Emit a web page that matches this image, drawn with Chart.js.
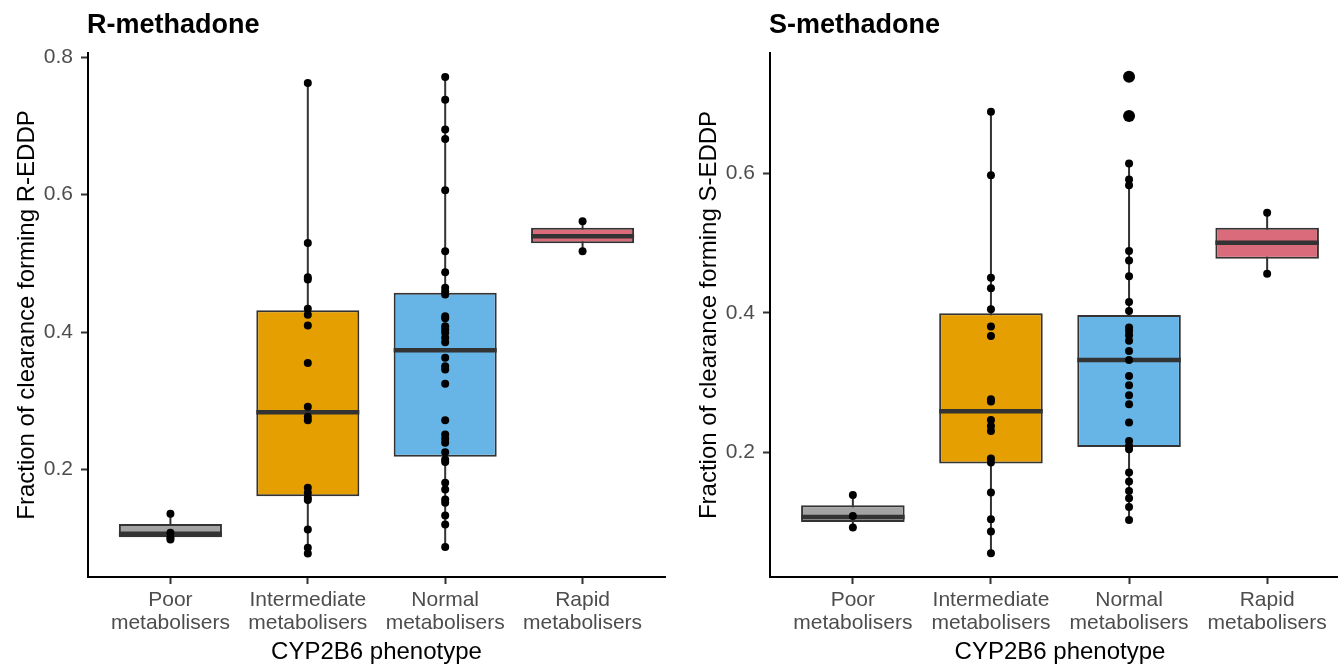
<!DOCTYPE html>
<html>
<head>
<meta charset="utf-8">
<script src="https://cdn.jsdelivr.net/npm/chart.js@4.4.0/dist/chart.umd.min.js"></script>
<style>
html, body { margin:0; padding:0; background:#fff; overflow:hidden; width:1338px; height:665px; }
canvas { position:absolute; top:0; }
.ttl { position:absolute; top:9px; font:bold 27px "Liberation Sans", Arial, sans-serif; color:#000; white-space:nowrap; }
</style>
</head>
<body>
<canvas id="rCanvas" width="680" height="665" style="left:0"></canvas>
<canvas id="sCanvas" width="683" height="665" style="left:682px"></canvas>
<div class="ttl" style="left:87px">R-methadone</div>
<div class="ttl" style="left:769px">S-methadone</div>
<script>
// categories + tick labels
var catLabels = [["Poor", "metabolisers"], ["Intermediate", "metabolisers"], ["Normal", "metabolisers"], ["Rapid", "metabolisers"]];
var boxColors = ["#A3A3A3", "#E69F00", "#66B5E6", "#D96B7A"];

// R-methadone (fraction forming R-EDDP)
var rPoor = [0.1356, 0.108, 0.101, 0.098];
var rInter = [0.7625, 0.5297, 0.4797, 0.4764, 0.4337, 0.425, 0.4095, 0.355, 0.2912, 0.2767, 0.2717, 0.1734, 0.166, 0.1588, 0.1555, 0.1127, 0.0861, 0.0778];
var rNormal = [0.771, 0.738, 0.6945, 0.681, 0.6063, 0.5176, 0.487, 0.4643, 0.4594, 0.4545, 0.423, 0.42, 0.4085, 0.4036, 0.399, 0.3915, 0.385, 0.3624, 0.3503, 0.3455, 0.3246, 0.2717, 0.251, 0.2447, 0.2388, 0.225, 0.2145, 0.2107, 0.1806, 0.1709, 0.1564, 0.1515, 0.133, 0.12, 0.087];
var rRapid = [0.5612, 0.5176];
var rQ1 = [0.1015, 0.161, 0.2185, 0.529];
var rMed = [0.1065, 0.2833, 0.3735, 0.5394];
var rQ3 = [0.1205, 0.4317, 0.457, 0.5516];
var rLo = [0.098, 0.0778, 0.087, 0.5176];
var rHi = [0.1356, 0.7625, 0.771, 0.5612];
var rTicks = [0.2, 0.4, 0.6, 0.8];

// S-methadone (fraction forming S-EDDP)
var sPoor = [0.1393, 0.1092, 0.0926];
var sInter = [0.6882, 0.5974, 0.4505, 0.4352, 0.4052, 0.3804, 0.367, 0.2763, 0.273, 0.2467, 0.238, 0.231, 0.1914, 0.1857, 0.1427, 0.1045, 0.0869, 0.0558];
var sNormal = [0.7383, 0.682, 0.6142, 0.5913, 0.5831, 0.4886, 0.4753, 0.4524, 0.4156, 0.4027, 0.379, 0.374, 0.368, 0.36, 0.3455, 0.3326, 0.3097, 0.2963, 0.282, 0.2691, 0.2429, 0.2166, 0.2094, 0.2047, 0.1714, 0.1585, 0.145, 0.1346, 0.1221, 0.1035];
var sRapid = [0.5436, 0.4563];
var sOutliers = [[], [], [0.7383, 0.682], []];
var sQ1 = [0.1006, 0.1843, 0.208, 0.4777];
var sMed = [0.1078, 0.2591, 0.3326, 0.5006];
var sQ3 = [0.1246, 0.3994, 0.397, 0.5221];
var sLo = [0.0926, 0.0558, 0.1035, 0.4563];
var sHi = [0.1393, 0.6882, 0.6142, 0.5436];
var sTicks = [0.2, 0.4, 0.6];

Chart.defaults.font.family = '"Liberation Sans", Arial, sans-serif';

function axisLook() {
    return {
        grid: { drawOnChartArea: false, drawTicks: true, tickLength: 7, tickColor: "#333", tickWidth: 2, offset: false },
        border: { display: true, color: "#000", width: 2 }
    };
}

function drawPanel(id, pts, outl, q1, med, q3, lo, hi, ticks, yMin, yMax, yTitle) {
    var boxes = q1.map(function(v, i){ return { x: i + 1, y: [v, q3[i]] }; });
    var medians = [], whiskers = [], dots = [], big = [];
    med.forEach(function(m, i){
        medians.push({ x: i + 0.625, y: m }, { x: i + 1.375, y: m }, { x: i + 1, y: null });
        whiskers.push({ x: i + 1, y: lo[i] }, { x: i + 1, y: hi[i] }, { x: i + 1, y: null });
    });
    pts.forEach(function(arr, i){ arr.forEach(function(v){ dots.push({ x: i + 1, y: v }); }); });
    outl.forEach(function(arr, i){ arr.forEach(function(v){ big.push({ x: i + 1, y: v }); }); });

    var xl = axisLook(), yl = axisLook();
    return new Chart(document.getElementById(id), {
        type: "bar",
        data: {
            datasets: [
            { type: "line", data: whiskers, borderColor: "#333", borderWidth: 2, pointRadius: 0, spanGaps: false, fill: false, order: 4 },
            { type: "bar", data: boxes, backgroundColor: boxColors, borderColor: "#333", borderWidth: 2, borderSkipped: false, barPercentage: 0.75, categoryPercentage: 1, order: 3 },
            { type: "line", data: medians, borderColor: "#333", borderWidth: 4.5, borderCapStyle: "butt", pointRadius: 0, spanGaps: false, fill: false, order: 2 },
            { type: "scatter", data: big, pointRadius: 6, backgroundColor: "#000", borderWidth: 0, order: 1 },
            { type: "scatter", data: dots, pointRadius: 4, backgroundColor: "#000", borderWidth: 0, order: 0 }
            ]
        },
        options: {
            responsive: false,
            animation: false,
            devicePixelRatio: 1,
            layout: { padding: { top: 53, right: 15, left: 0, bottom: 0 } },
            plugins: { legend: { display: false }, tooltip: { enabled: false }, title: { display: false } },
            scales: {
                x: {
                    type: "linear", min: 0.4, max: 4.6, offset: false,
                    afterBuildTicks: function(s){ s.ticks = catLabels.map(function(c, i){ return { value: i + 1 }; }); },
                    afterFit: function(s){ s.height = 88; },
                    ticks: {
                        callback: function(v, i){ return catLabels[i]; },
                        color: "#4D4D4D", font: { size: 21, lineHeight: 1.13 }, padding: 4, maxRotation: 0, autoSkip: false
                    },
                    grid: xl.grid, border: xl.border,
                    title: { display: true, text: "CYP2B6 phenotype", color: "#000", font: { size: 24, lineHeight: 1 }, padding: { top: 0, bottom: 1 } }
                },
                y: {
                    type: "linear", min: yMin, max: yMax,
                    afterBuildTicks: function(s){ s.ticks = ticks.map(function(v){ return { value: v }; }); },
                    afterFit: function(s){ s.width = 88; },
                    ticks: { callback: function(v){ return v.toFixed(1); }, color: "#4D4D4D", font: { size: 21 }, padding: 8 },
                    grid: yl.grid, border: yl.border,
                    title: { display: true, text: yTitle, color: "#000", font: { size: 24, lineHeight: 1 }, padding: { top: 15, bottom: 0 } }
                }
            }
        }
    });
}

drawPanel("rCanvas", [rPoor, rInter, rNormal, rRapid], [[], [], [], []], rQ1, rMed, rQ3, rLo, rHi, rTicks, 0.0435, 0.806, "Fraction of clearance forming R-EDDP");
drawPanel("sCanvas", [sPoor, sInter, sNormal, sRapid], sOutliers, sQ1, sMed, sQ3, sLo, sHi, sTicks, 0.0217, 0.7724, "Fraction of clearance forming S-EDDP");
</script>
</body>
</html>
